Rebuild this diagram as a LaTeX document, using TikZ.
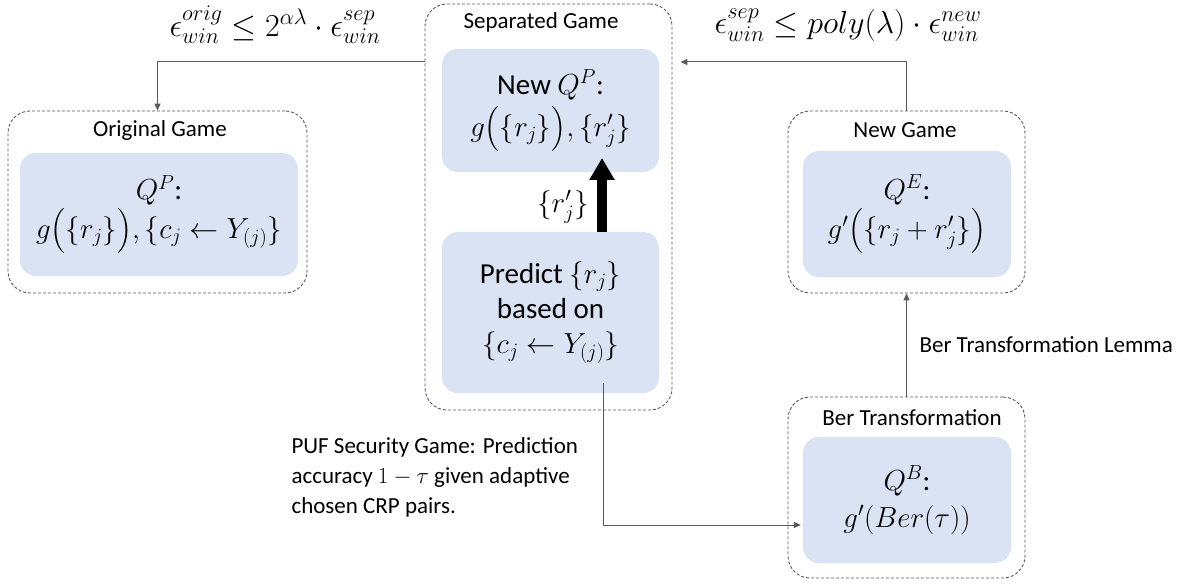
\RequirePackage{fix-cm}
\documentclass[tikz,border=0pt]{standalone}
\usepackage{amsmath}
\usepackage{fontspec}
\setmainfont{Carlito}
\usetikzlibrary{arrows.meta}
\definecolor{innerblue}{HTML}{DAE3F3}
\definecolor{lineg}{HTML}{595959}
\tikzset{
  outerbox/.style={draw=lineg, dash pattern=on 3pt off 2pt, line width=0.9pt, rounded corners=22pt, inner sep=0pt},
  innerbox/.style={fill=innerblue, rounded corners=16pt, align=center, inner sep=0pt, font=\fontsize{29}{37}\selectfont},
  titletext/.style={font=\fontsize{23}{27}\selectfont},
  eqtext/.style={font=\fontsize{32}{38}\selectfont},
  conn/.style={draw=lineg, line width=1pt, -{Triangle[width=6pt,length=7pt]}},
  bigarrow/.style={line width=10pt, -{Triangle[width=24pt,length=22pt]}},
  plaintext/.style={font=\fontsize{23}{30}\selectfont, align=left}
}
\begin{document}
\begin{tikzpicture}[x=1pt,y=-1pt]
\useasboundingbox (0,0) rectangle (1185,585);
% outer boxes
\node[outerbox, minimum width=299pt, minimum height=182pt] (orig) at (157.5,202) {};
\node[outerbox, minimum width=247pt, minimum height=406pt] (sep) at (548.5,207) {};
\node[outerbox, minimum width=237pt, minimum height=182pt] (newg) at (906.5,202) {};
\node[outerbox, minimum width=237pt, minimum height=181pt] (ber) at (906.5,487.5) {};
% titles
\node[titletext] (origt) at (160,130) {Original Game};
\node[titletext] (sept) at (541,22) {Separated Game};
\node[titletext] (newgt) at (905,130) {New Game};
\node[titletext] (bert) at (912,418) {Ber Transformation};
% inner boxes
\node[innerbox, minimum width=278pt, minimum height=123pt] (origin) at (159,214.5)
  {$Q^P$:\\[2pt] $g\big(\{r_j\}\big),\{c_j\leftarrow Y_{(j)}\}$};
\node[innerbox, minimum width=217pt, minimum height=123pt] (newqp) at (550.5,110.5)
  {New $Q^P$:\\[5pt] $g\big(\{r_j\}\big),\{r_j'\}$};
\node[innerbox, minimum width=217pt, minimum height=161pt, font=\fontsize{29}{35}\selectfont] (pred) at (550.5,312.5)
  {Predict $\{r_j\}$\\ based on\\ $\{c_j\leftarrow Y_{(j)}\}$};
\node[innerbox, minimum width=208pt, minimum height=126pt] (newin) at (907,214)
  {$Q^E$:\\[2pt] $g'\big(\{r_j+r_j'\}\big)$};
\node[innerbox, minimum width=208pt, minimum height=126pt] (berin) at (907,500)
  {$Q^B$:\\ $g'(Ber(\tau))$};
% equations
\node[eqtext] (eqL) at (275,25) {$\epsilon_{win}^{orig}\le 2^{\alpha\lambda}\cdot\epsilon_{win}^{sep}$};
\node[eqtext] (eqR) at (848,25) {$\epsilon_{win}^{sep}\le poly(\lambda)\cdot\epsilon_{win}^{new}$};
% labels
\node[font=\fontsize{29}{34}\selectfont] (rjlab) at (563,207) {$\{r_j'\}$};
\node[titletext, anchor=west] (lemma) at (916,345) {Ber Transformation Lemma};
\node[plaintext, anchor=west] (puf) at (288,477) {PUF Security Game: Prediction\\ accuracy $1-\tau$ given adaptive\\ chosen CRP pairs.};
% connectors
\coordinate (topline) at (0,62);
\coordinate (predout) at (603,383);
\coordinate (bigtip) at (602,158);
\draw[conn] (sep.west |- topline) -| (orig.north);
\draw[conn, shorten >=8pt] (newg.north) |- (sep.east |- topline);
\draw[conn] (ber.north) -- (newg.south);
\draw[conn, shorten >=2pt] (predout) |- ([yshift=-25pt]berin.west);
\draw[bigarrow] (pred.north -| bigtip) -- (bigtip);
\end{tikzpicture}
\end{document}
